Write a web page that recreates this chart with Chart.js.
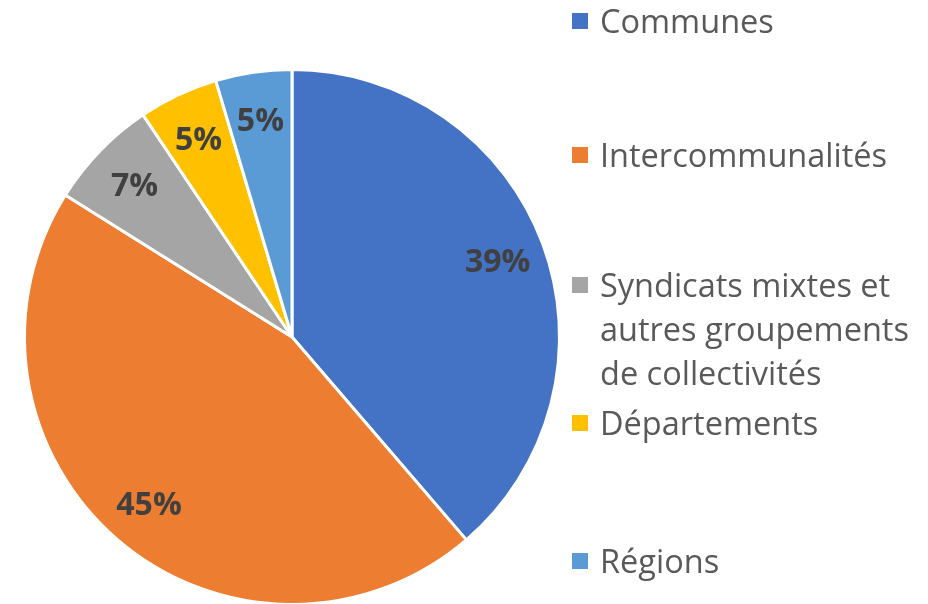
<!DOCTYPE html>
<html>
<head>
<meta charset="utf-8">
<script src="https://cdn.jsdelivr.net/npm/chart.js@4.4.1/dist/chart.umd.min.js"></script>
<style>
html,body{margin:0;padding:0;background:#fff;overflow:hidden;}
#wrap{position:relative;width:928px;height:604px;overflow:hidden;}
</style>
</head>
<body>
<div id="wrap"><canvas id="c" width="928" height="606"></canvas></div>
<script>
// ---- data ----
const categories = ["Communes", "Intercommunalités", "Syndicats mixtes et autres groupements de collectivités", "Départements", "Régions"];
const values = [38.7, 45.2, 6.7, 4.8, 4.6];
const colors = ["#4472C4", "#ED7D31", "#A5A5A5", "#FFC000", "#5B9BD5"];

// ---- layout ----
const FONT = "'Open Sans', 'Liberation Sans', sans-serif";
const legendBaselines = [33, 167, 297, 435, 573];
const legendX = 572, legendTextX = 600, legendMaxW = 326, legendLineH = 44, legendFontSize = 32.5;
const labelFontSize = 32;

const total = values.reduce((a, b) => a + b, 0);

function wrap(ctx, text, maxW) {
  const words = text.split(' ');
  const lines = [];
  let cur = '';
  for (const w of words) {
    const t = cur ? cur + ' ' + w : w;
    if (ctx.measureText(t).width > maxW && cur) { lines.push(cur); cur = w; }
    else cur = t;
  }
  if (cur) lines.push(cur);
  return lines;
}

const labelPlugin = {
  id: 'sliceLabels',
  afterDatasetsDraw(chart) {
    const ctx = chart.ctx;
    const meta = chart.getDatasetMeta(0);
    ctx.save();
    ctx.font = "bold " + labelFontSize + "px " + FONT;
    ctx.fillStyle = "#404040";
    ctx.textAlign = 'center';
    ctx.textBaseline = 'alphabetic';
    const capHalf = labelFontSize * 0.714 / 2;
    meta.data.forEach((arc, i) => {
      const p = arc.getProps(['x', 'y', 'startAngle', 'endAngle', 'outerRadius'], true);
      const mid = (p.startAngle + p.endAngle) / 2;
      const r = p.outerRadius * 0.82;
      const pct = Math.round(values[i] / total * 100) + '%';
      ctx.fillText(pct, p.x + Math.cos(mid) * r, p.y + Math.sin(mid) * r + capHalf);
    });
    ctx.restore();
  }
};

const legendPlugin = {
  id: 'sideLegend',
  afterDraw(chart) {
    const ctx = chart.ctx;
    ctx.save();
    ctx.font = legendFontSize + "px " + FONT;
    ctx.textBaseline = 'alphabetic';
    ctx.textAlign = 'left';
    categories.forEach((label, i) => {
      const base = legendBaselines[i];
      ctx.fillStyle = colors[i];
      ctx.fillRect(legendX, base - 20, 16, 16);
      ctx.fillStyle = "#595959";
      wrap(ctx, label, legendMaxW).forEach((line, j) => {
        ctx.fillText(line, legendTextX, base + j * legendLineH);
      });
    });
    ctx.restore();
  }
};

new Chart(document.getElementById('c'), {
  type: 'pie',
  data: {
    labels: categories,
    datasets: [{
      data: values,
      backgroundColor: colors,
      borderColor: '#ffffff',
      borderWidth: 3,
      hoverOffset: 0
    }]
  },
  options: {
    responsive: false,
    animation: false,
    layout: { padding: { left: 23, top: 68, right: 367, bottom: 0 } },
    plugins: {
      legend: { display: false },
      tooltip: { enabled: false }
    }
  },
  plugins: [labelPlugin, legendPlugin]
});
</script>
</body>
</html>
